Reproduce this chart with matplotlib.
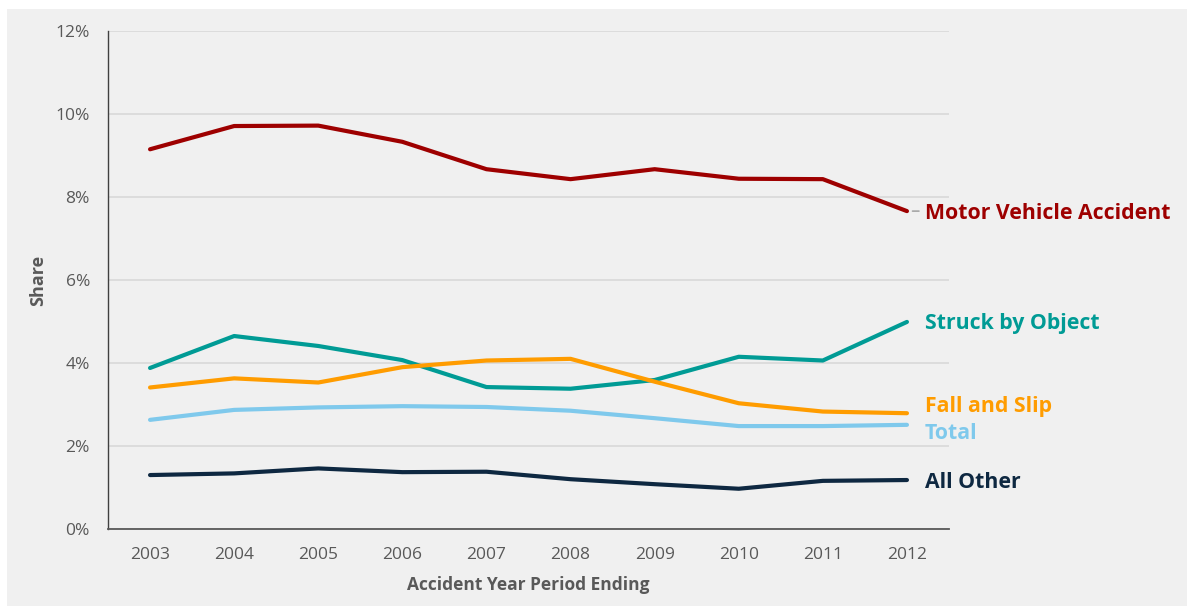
import matplotlib
matplotlib.use("Agg")
import matplotlib.pyplot as plt
from matplotlib.patches import Rectangle

plt.rcParams['font.family'] = ['Open Sans', 'DejaVu Sans']

years = ["2003", "2004", "2005", "2006", "2007", "2008", "2009", "2010", "2011", "2012"]
motor_vehicle = [9.15, 9.71, 9.72, 9.33, 8.67, 8.43, 8.67, 8.44, 8.43, 7.66]
struck_by_object = [3.88, 4.65, 4.41, 4.07, 3.42, 3.38, 3.59, 4.15, 4.06, 4.99]
fall_and_slip = [3.41, 3.63, 3.53, 3.90, 4.06, 4.10, 3.55, 3.03, 2.83, 2.79]
total = [2.63, 2.87, 2.93, 2.96, 2.94, 2.85, 2.67, 2.48, 2.48, 2.51]
all_other = [1.30, 1.34, 1.46, 1.37, 1.38, 1.20, 1.08, 0.97, 1.16, 1.18]
y_ticks = [0, 2, 4, 6, 8, 10, 12]

series = [
    ("Motor Vehicle Accident", motor_vehicle, "#9E0000", -2),
    ("Struck by Object", struck_by_object, "#009B95", -2),
    ("Fall and Slip", fall_and_slip, "#FF9C00", 7),
    ("Total", total, "#7FC9EC", -9),
    ("All Other", all_other, "#0E2841", -2),
]

W, H = 1187, 606
fig = plt.figure(figsize=(W / 100, H / 100), dpi=100, facecolor="white")
fig.patches.append(Rectangle((7 / W, 0), 1 - 7 / W, 1 - 9 / H, transform=fig.transFigure,
                             facecolor="#F0F0F0", edgecolor="none", zorder=-10))

ax = fig.add_axes([108 / W, 1 - 529 / H, (949 - 108) / W, (529 - 31) / H])
ax.set_facecolor("none")

x = list(range(len(years)))
for name, vals, color, dy in series:
    ax.plot(x, vals, color=color, lw=3.0, solid_capstyle="round", solid_joinstyle="round", zorder=3)
    ax.annotate(name, xy=(x[-1], vals[-1]), xytext=(18, dy), textcoords="offset pixels",
                ha="left", va="center", color=color, fontsize=15.3, fontweight="bold",
                annotation_clip=False)

# leader line for Motor Vehicle label
ax.annotate("", xy=(x[-1], motor_vehicle[-1]), xytext=(12, 0), textcoords="offset pixels",
            arrowprops=dict(arrowstyle="-", color="#A6A6A6", lw=1.2, shrinkA=0, shrinkB=4),
            annotation_clip=False)

ax.set_xlim(-0.5, len(years) - 0.5)
ax.set_ylim(0, 12)
ax.set_xticks(x)
ax.set_xticklabels(years)
ax.set_yticks(y_ticks)
ax.set_yticklabels([f"{t}%" for t in y_ticks])
ax.tick_params(axis="both", length=0, labelsize=12.5, colors="#595959")
ax.tick_params(axis="x", pad=13)
ax.tick_params(axis="y", pad=13)
ax.grid(axis="y", color="#D9D9D9", lw=1.2, zorder=0)
ax.set_axisbelow(True)

for s in ["top", "right"]:
    ax.spines[s].set_visible(False)
ax.spines["left"].set_color("#404040")
ax.spines["left"].set_linewidth(1.0)
ax.spines["bottom"].set_color("#595959")
ax.spines["bottom"].set_linewidth(1.3)

ax.set_xlabel("Accident Year Period Ending", fontsize=12.5, fontweight="bold", color="#595959", labelpad=9)
ax.set_ylabel("Share", fontsize=13, fontweight="bold", color="#595959", labelpad=6)

fig.savefig("out.png", dpi=100, facecolor=fig.get_facecolor())
